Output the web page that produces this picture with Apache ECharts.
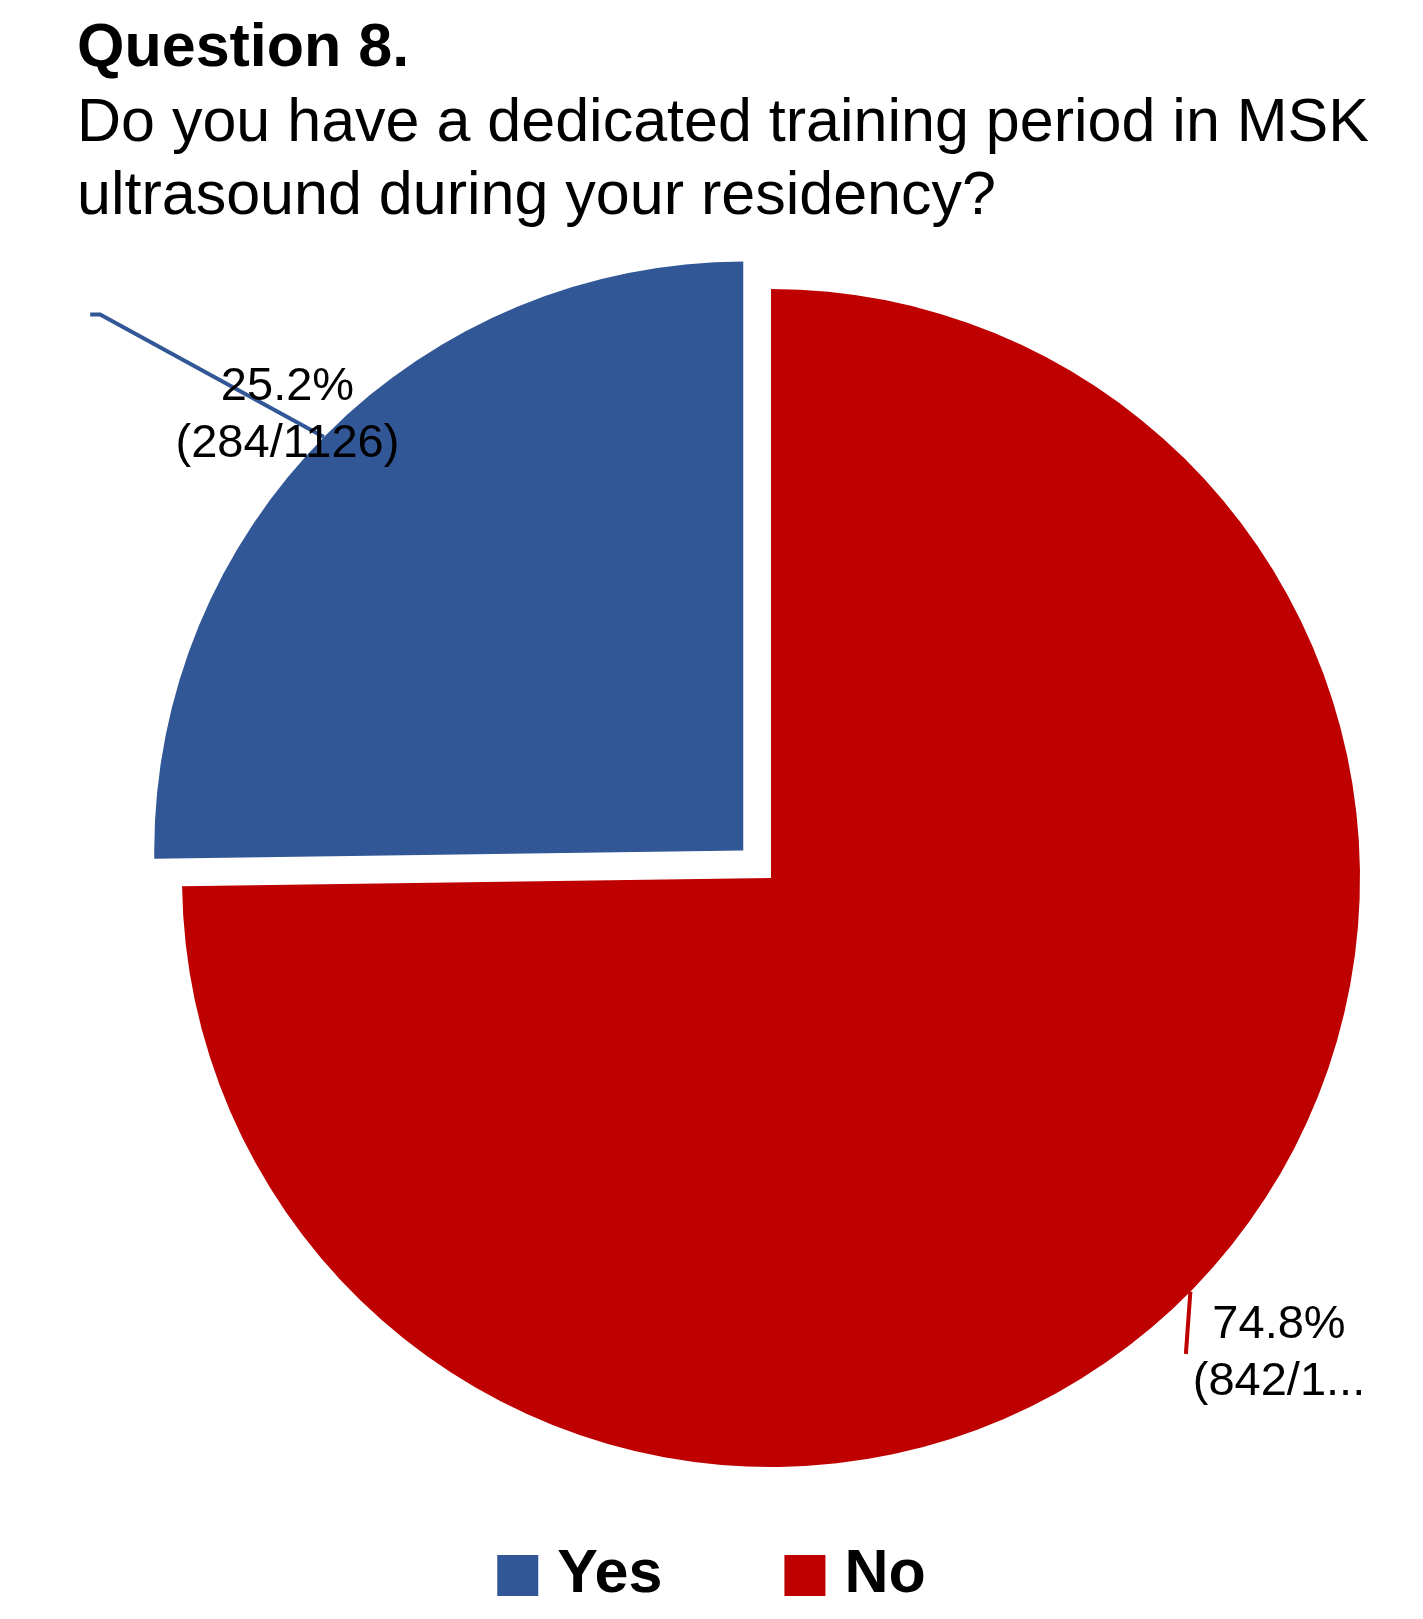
<!DOCTYPE html>
<html><head><meta charset="utf-8">
<script src="https://cdn.jsdelivr.net/npm/echarts@6/dist/echarts.min.js"></script>
<style>html,body{margin:0;background:#fff}#c{width:1423px;height:1619px}</style>
</head><body><div id="c"></div>
<script>
const categories = ['Yes', 'No'];
const counts = [284, 842];
const total = 1126;
const colors = ['#315796', '#BE0000'];
const chart = echarts.init(document.getElementById('c'));
chart.setOption({
  animation: false,
  backgroundColor: '#fff',
  title: [{
    text: 'Question 8.', left: 72, top: 14,
    textStyle: {fontFamily: 'Liberation Sans, Arial', fontSize: 61, fontWeight: 'bold', color: '#000'}
  }, {
    text: 'Do you have a dedicated training period in MSK\nultrasound during your residency?', left: 72, top: 83,
    textStyle: {fontFamily: 'Liberation Sans, Arial', fontSize: 61, fontWeight: 'normal', color: '#000', lineHeight: 73}
  }],
  legend: {
    bottom: 8, left: 'center', itemWidth: 41, itemHeight: 41, itemGap: 122, icon: 'rect',
    textStyle: {fontFamily: 'Liberation Sans, Arial', fontSize: 61, fontWeight: 'bold', color: '#000', padding: [0,0,0,14]},
    data: categories
  },
  series: [{
    type: 'pie', center: [771, 878], radius: 589, startAngle: 90, clockwise: false,
    selectedMode: 'single', selectedOffset: 39,
    data: categories.map((c, i) => ({name: c, value: counts[i], selected: i === 0, itemStyle: {color: colors[i]}})),
    label: {
      position: 'outside', fontFamily: 'Liberation Sans, Arial', fontSize: 47, color: '#000', lineHeight: 57, align: 'center',
      formatter: p => p.percent.toFixed(1) + '%\n(' + p.value + '/' + total + ')'
    },
    labelLine: {show: true, length: 30, length2: 10, lineStyle: {width: 4}},
    labelLayout: p => p.dataIndex === 0
      ? {x: 6, y: 342, align: 'center', verticalAlign: 'middle'}
      : {x: 1279, y: 1354, align: 'center', verticalAlign: 'middle'}
  }]
});
</script></body></html>
